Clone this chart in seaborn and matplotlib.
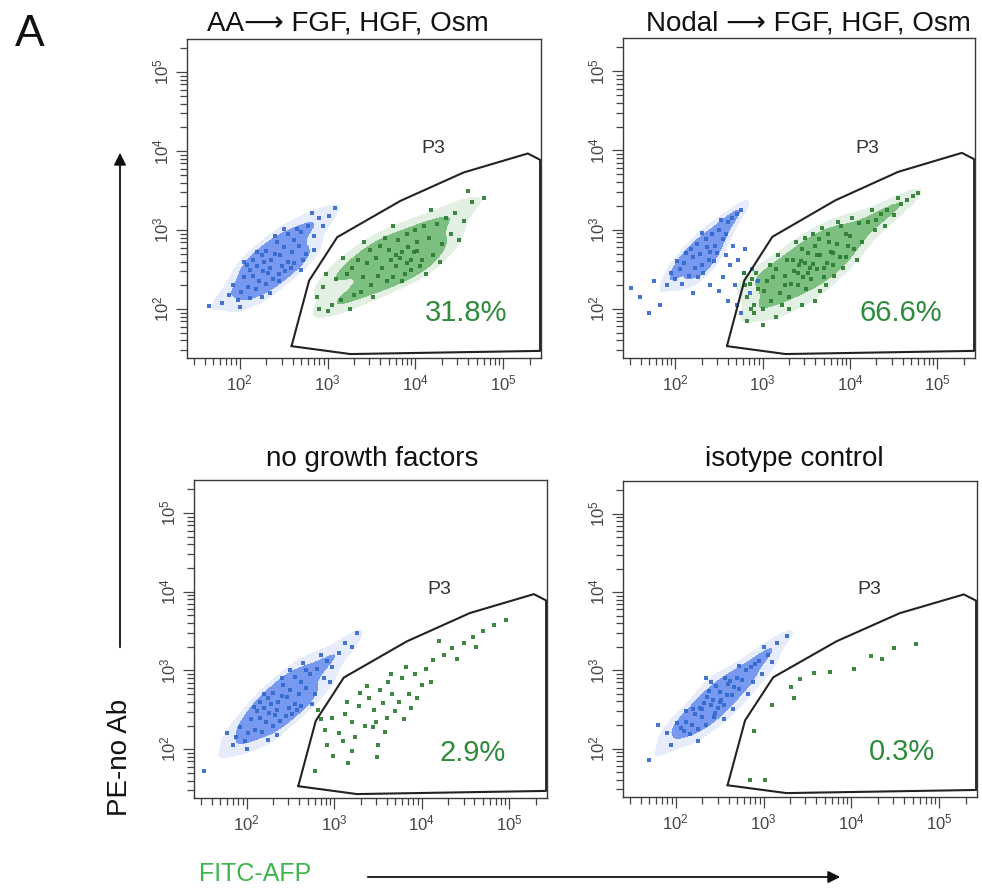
import numpy as np
import matplotlib
matplotlib.use("Agg")
import matplotlib.pyplot as plt
from matplotlib.ticker import LogLocator, NullFormatter
from matplotlib.patches import FancyArrowPatch
import seaborn as sns

sns.set_theme(style="white")
plt.rcParams['font.family'] = ['Liberation Sans', 'DejaVu Sans']

# textos de cada panel
titles = ["AA\u27f6 FGF, HGF, Osm", "Nodal \u27f6 FGF, HGF, Osm",
          "no growth factors", "isotype control"]
percents = ["31.8%", "66.6%", "2.9%", "0.3%"]
gate_name = "P3"

# compuerta P3 (log10 FITC, log10 PE)
gate_x = [2.59, 2.79, 3.11, 3.83, 4.55, 5.28, 5.42, 5.42, 3.26, 2.59]
gate_y = [1.53, 2.36, 2.91, 3.37, 3.73, 3.97, 3.89, 1.47, 1.43, 1.53]

# eventos (log10 x, log10 y)
p1_blue = [(2.35,2.52),(2.20,2.55),(2.45,2.45),(2.30,2.32),(2.40,2.70),(2.15,2.42),(2.55,2.60),(2.25,2.68),
           (2.50,2.78),(2.10,2.28),(2.38,2.38),(2.28,2.60),(2.60,2.72),(2.05,2.40),(2.48,2.55),(2.18,2.25),
           (2.42,2.85),(2.32,2.46),(2.62,2.88),(2.12,2.50),(2.22,2.36),(2.52,2.48),(2.36,2.62),(2.58,2.52),
           (2.02,2.22),(2.46,2.68),(2.26,2.48),(2.68,2.80),(2.08,2.56),(2.30,2.74),(2.70,2.98),(2.75,2.70),
           (2.78,3.05),(2.85,2.92),(2.65,3.02),(2.90,3.15),(2.82,3.22),(2.95,3.05),(3.02,3.18),(2.72,2.62),
           (1.98,2.12),(1.92,2.30),(2.00,2.02),(2.12,2.14),(1.88,2.18),(2.15,2.62),(2.40,2.92),(2.55,2.95),
           (2.62,2.58),(2.45,2.36),(1.65,2.04),(2.85,2.75),(2.25,2.15),(2.20,2.72),(2.05,2.60),(3.08,3.28),
           (2.50,3.02),(1.80,2.08),(2.70,2.50),(2.35,2.20)]
p1_green = [(3.83,2.65),(3.75,2.40),(3.90,2.95),(3.70,2.75),(3.95,2.50),(3.62,2.52),(4.02,2.85),(3.80,2.88),
            (3.88,2.45),(3.55,2.65),(4.10,3.05),(3.68,2.35),(3.98,2.72),(3.72,2.62),(4.05,2.55),(3.60,2.80),
            (4.15,2.90),(3.50,2.30),(3.92,2.78),(3.78,2.55),(4.20,2.68),(3.45,2.58),(4.00,3.00),(3.85,2.35),
            (4.25,3.08),(3.40,2.40),(3.65,2.90),(4.08,2.62),(3.35,2.62),(3.30,2.18),(4.30,2.82),(3.58,2.42),
            (3.22,2.45),(4.35,3.15),(3.15,2.12),(3.48,2.75),(4.40,2.95),(3.10,2.38),(3.05,2.05),(4.45,3.22),
            (2.95,2.28),(3.28,2.52),(2.88,2.15),(4.55,3.12),(3.38,2.22),(4.12,2.45),(3.18,2.65),(4.65,3.35),
            (2.98,2.45),(4.78,3.40),(3.00,1.98),(3.52,2.15),(4.18,3.25),(3.25,2.00),(4.50,2.88),(2.90,2.00),
            (3.75,3.05),(4.60,3.50),(3.42,2.85),(4.28,2.60),(3.85,2.72),(3.95,2.62),(3.78,2.68),(4.02,2.74),
            (3.90,2.58)]

p2_blue = [(2.28,2.69),(2.18,2.75),(2.38,2.62),(2.22,2.52),(2.35,2.88),(2.10,2.58),(2.45,2.80),(2.30,2.55),
           (2.15,2.42),(2.42,2.95),(2.05,2.50),(2.50,3.00),(2.25,2.82),(2.40,2.72),(2.00,2.38),(2.55,2.88),
           (2.32,2.45),(2.20,2.65),(2.60,3.10),(2.12,2.70),(2.48,2.70),(1.95,2.45),(2.65,3.15),(2.36,2.78),
           (2.26,2.40),(2.52,3.12),(2.70,3.20),(2.08,2.32),(2.44,2.60),(2.75,3.25),(1.90,2.30),(2.58,2.95),
           (2.30,2.96),(2.02,2.60)]
p2_blue_spread = [(1.49,2.27),(1.60,2.15),(1.75,2.35),(1.82,2.05),(2.55,2.40),(2.62,2.55),(2.68,2.30),
                  (2.72,2.62),(2.78,2.45),(2.85,2.20),(2.60,2.10),(2.50,2.22),(2.80,2.75),(2.66,2.80),
                  (2.88,2.50),(2.40,2.30),(2.75,1.95),(2.20,2.20),(1.70,1.95),(2.95,2.35),(2.58,2.68),
                  (2.70,2.05)]
p2_green = [(3.57,2.57),(3.50,2.25),(3.64,2.88),(3.45,2.75),(3.70,2.40),(3.40,2.30),(3.60,2.80),(3.52,2.45),
            (3.75,2.95),(3.35,2.62),(3.80,2.55),(3.30,2.15),(3.66,2.68),(3.48,2.90),(3.85,2.82),(3.25,2.42),
            (3.72,2.30),(3.42,2.55),(3.90,3.05),(3.20,2.20),(3.55,2.38),(3.62,2.50),(3.95,2.65),(3.15,2.50),
            (3.78,2.72),(3.38,2.85),(4.00,2.92),(3.10,2.10),(3.68,3.02),(3.28,2.62),(4.05,2.75),(3.05,2.35),
            (3.82,2.42),(3.46,2.40),(4.10,3.08),(3.00,2.00),(3.58,2.95),(3.32,2.32),(3.92,2.52),(2.95,2.25),
            (3.74,2.58),(3.18,2.68),(4.14,2.85),(2.90,2.05),(3.86,3.10),(3.22,2.05),(3.98,2.80),(2.85,2.32),
            (3.52,2.70),(3.08,2.55),(3.65,2.22),(2.82,2.15),(3.44,2.60),(3.88,2.65),(3.12,2.40),(4.02,3.15),
            (2.92,2.45),(3.36,2.48),(3.76,2.85),(3.02,2.22),(3.95,2.95),(2.88,2.38),(3.26,2.30),(4.08,2.62),
            (3.54,2.52),(3.62,2.68),(3.70,2.52),(3.48,2.58),(3.80,2.70),(3.40,2.45),(4.20,3.10),(4.28,3.00),
            (4.35,3.20),(4.42,3.25),(4.50,3.18),(4.58,3.32),(4.65,3.38),(4.72,3.42),(4.78,3.46),(4.25,3.25),
            (4.40,3.05),(4.55,3.40),(4.30,3.12),(2.82,1.85),(2.90,1.95),(3.00,1.80),(2.86,2.00),(3.15,1.90),
            (3.30,2.00),(2.80,2.30),(2.78,2.45),(3.45,2.05),(3.60,2.10)]

p3_blue = [(2.35,2.50),(2.20,2.52),(2.45,2.42),(2.30,2.30),(2.40,2.68),(2.15,2.40),(2.55,2.58),(2.25,2.65),
           (2.50,2.75),(2.10,2.25),(2.38,2.36),(2.28,2.58),(2.60,2.70),(2.05,2.38),(2.48,2.52),(2.18,2.22),
           (2.42,2.82),(2.32,2.44),(2.62,2.85),(2.12,2.48),(2.22,2.34),(2.52,2.45),(2.36,2.60),(2.58,2.50),
           (2.02,2.20),(2.46,2.66),(2.26,2.46),(2.68,2.78),(2.08,2.54),(2.30,2.72),(2.72,2.95),(2.78,2.70),
           (2.80,3.02),(2.88,2.90),(2.68,3.00),(2.92,3.12),(2.85,3.20),(2.98,3.05),(3.05,3.22),(3.12,3.35),
           (3.20,3.30),(3.26,3.47),(1.98,2.10),(1.92,2.28),(2.00,2.00),(1.88,2.15),(2.15,2.60),(2.40,2.90),
           (2.55,2.92),(2.62,2.55),(1.78,2.20),(1.51,1.72),(2.25,2.12),(2.20,2.70),(2.75,2.58),(2.50,3.00),
           (1.85,2.05),(2.95,2.85),(2.65,3.10),(2.35,2.18)]
p3_green = [(3.56,2.59),(3.48,2.35),(3.62,2.85),(3.40,2.65),(3.70,2.48),(3.35,2.30),(3.78,2.90),(3.52,2.75),
            (3.60,2.40),(3.28,2.55),(3.85,2.70),(3.44,2.28),(3.92,2.95),(3.20,2.35),(3.66,2.70),(3.30,2.72),
            (4.00,2.82),(3.12,2.45),(3.74,2.60),(3.05,2.20),(4.05,3.02),(3.58,2.22),(2.98,2.40),(4.10,2.85),
            (3.24,2.15),(2.90,2.25),(3.82,3.05),(2.85,2.38),(4.13,3.13),(3.15,2.60),(3.95,2.65),(2.82,2.50),
            (3.38,2.80),(3.10,2.10),(3.88,2.52),(4.25,3.20),(4.35,3.28),(4.48,3.35),(4.58,3.42),(4.70,3.50),
            (4.82,3.58),(4.96,3.64),(4.40,3.15),(4.62,3.30),(4.20,3.38),(2.99,1.91),(3.20,1.98),(2.92,2.05),
            (3.50,2.05),(3.49,1.90),(2.78,1.72),(3.16,1.83),(3.65,2.95),(3.45,2.50),(3.80,2.38)]

p4_blue = [(2.40,2.56),(2.32,2.58),(2.48,2.52),(2.30,2.40),(2.50,2.72),(2.22,2.44),(2.58,2.68),(2.36,2.66),
           (2.45,2.45),(2.18,2.30),(2.60,2.82),(2.28,2.52),(2.52,2.62),(2.25,2.25),(2.66,2.78),(2.12,2.34),
           (2.55,2.55),(2.38,2.74),(2.70,2.90),(2.10,2.22),(2.44,2.40),(2.62,2.86),(2.20,2.50),(2.76,2.88),
           (2.06,2.26),(2.64,2.68),(2.80,3.00),(2.16,2.18),(2.46,2.80),(2.86,3.04),(2.02,2.32),(2.72,2.76),
           (2.90,3.08),(2.34,2.30),(2.56,2.90),(2.95,3.12),(3.05,3.20),(3.15,3.35),(3.27,3.44),(2.88,2.85),
           (2.72,3.05),(3.00,3.30),(1.90,2.20),(1.80,2.30),(1.70,1.85),(2.25,2.10),(2.55,2.38),(2.98,2.95),
           (2.12,2.48),(2.40,2.85),(3.10,3.10),(2.82,2.70),(1.95,2.05),(2.65,2.50),(2.35,2.90),(2.42,2.62),
           (2.30,2.50),(2.50,2.60)]
p4_green = [(3.42,2.89),(3.57,2.96),(3.76,2.98),(4.03,3.02),(4.22,3.18),(4.35,3.15),(4.48,3.28),(4.73,3.34),
            (3.31,2.79),(3.10,2.56),(2.89,2.22),(2.85,1.60),(3.02,1.60),(3.35,2.64)]

blue_sets = [p1_blue, p2_blue, p3_blue, p4_blue]
blue_extra = [[], p2_blue_spread, [], []]
green_sets = [p1_green, p2_green, p3_green, p4_green]
green_kde = [True, True, False, False]

W, H = 982, 888
fig = plt.figure(figsize=(W / 100, H / 100), dpi=100)

def rect(l, t, r, b):
    return [l / W, 1 - b / H, (r - l) / W, (b - t) / H]

def xy(pts):
    if not pts:
        return np.array([]), np.array([])
    a = np.array(pts)
    return 10 ** a[:, 0], 10 ** a[:, 1]

axes_px = [(187, 39, 541, 358), (623, 38, 975, 358), (194, 480, 547, 798), (623, 481, 977, 797)]
title_px = [(348, 24), (808, 24), (372, 459), (794, 459)]

blue = '#3267cc'
green = '#2b7a2f'
pct_color = '#2e8b3c'

for i in range(4):
    ax = fig.add_axes(rect(*axes_px[i]))
    bx, by = xy(blue_sets[i])
    ex, ey = xy(blue_extra[i])
    gx, gy = xy(green_sets[i])

    sns.kdeplot(x=bx, y=by, ax=ax, fill=True, levels=[0.15, 1], color=blue,
                alpha=0.15, bw_adjust=1.0, log_scale=True)
    sns.kdeplot(x=bx, y=by, ax=ax, fill=True, levels=[0.4, 1], color=blue,
                alpha=0.8, bw_adjust=1.0, log_scale=True)
    if green_kde[i]:
        sns.kdeplot(x=gx, y=gy, ax=ax, fill=True, levels=[0.2, 1], color=green,
                    alpha=0.15, bw_adjust=1.0, log_scale=True)
        sns.kdeplot(x=gx, y=gy, ax=ax, fill=True, levels=[0.45, 1], color=green,
                    alpha=0.6, bw_adjust=1.0, log_scale=True)
    sns.scatterplot(x=np.concatenate([bx, ex]), y=np.concatenate([by, ey]), ax=ax,
                    s=8, marker='s', linewidth=0, color=blue, alpha=0.9)
    sns.scatterplot(x=gx, y=gy, ax=ax, s=8, marker='s', linewidth=0, color=green, alpha=0.9)

    ax.plot(10 ** np.array(gate_x), 10 ** np.array(gate_y), color='#222222', lw=1.5, clip_on=False)
    ax.text(10 ** 4.2, 10 ** 4.03, gate_name, ha='center', va='center', fontsize=14, color='#333333')
    ax.text(10 ** 4.58, 10 ** 1.95, percents[i], ha='center', va='center', fontsize=21, color=pct_color)

    ax.set_xscale('log')
    ax.set_yscale('log')
    ax.set_xlim(10 ** 1.4, 10 ** 5.43)
    ax.set_ylim(10 ** 1.38, 10 ** 5.42)
    for a in (ax.xaxis, ax.yaxis):
        a.set_major_locator(LogLocator(base=10, numticks=10))
        a.set_minor_locator(LogLocator(base=10, subs=np.arange(2, 10), numticks=20))
        a.set_minor_formatter(NullFormatter())
    ax.tick_params(which='both', direction='out', color='#444444', width=0.9,
                   labelsize=12, labelcolor='#444444', bottom=True, left=True)
    ax.tick_params(which='major', length=8, pad=3)
    ax.tick_params(which='minor', length=5)
    ax.tick_params(axis='y', labelrotation=90)
    for lab in ax.get_yticklabels():
        lab.set_va('center')
    ax.set_xlabel('')
    ax.set_ylabel('')
    for s in ax.spines.values():
        s.set_color('#3a3a3a')
        s.set_linewidth(1.0)

    fig.text(title_px[i][0] / W, 1 - title_px[i][1] / H, titles[i],
             ha='center', va='center', fontsize=20, color='#111111')

fig.text(30 / W, 1 - 34 / H, 'A', ha='center', va='center', fontsize=32, color='#111111')
fig.text(120 / W, 1 - 757 / H, 'PE-no Ab', rotation=90, ha='center', va='center',
         fontsize=20, color='#111111')
fig.text(255 / W, 1 - 874 / H, 'FITC-AFP', ha='center', va='center', fontsize=18, color='#3cb54a')

fig.add_artist(FancyArrowPatch((120 / W, 1 - 650 / H), (120 / W, 1 - 150 / H),
                               transform=fig.transFigure, arrowstyle='-|>',
                               mutation_scale=18, lw=1.3, color='#111111'))
fig.add_artist(FancyArrowPatch((365 / W, 1 - 877 / H), (843 / W, 1 - 877 / H),
                               transform=fig.transFigure, arrowstyle='-|>',
                               mutation_scale=18, lw=1.3, color='#111111'))

fig.savefig('out.png', dpi=100, facecolor='white')
